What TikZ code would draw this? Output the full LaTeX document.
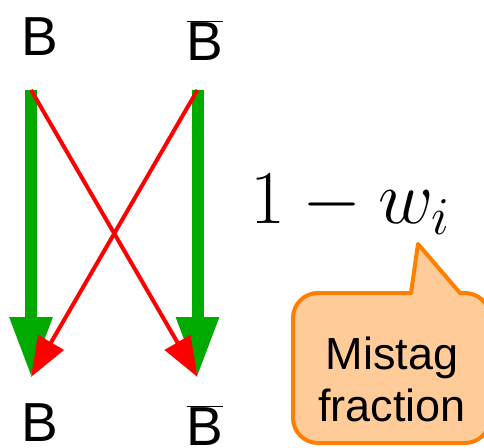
\documentclass[tikz,border=0pt]{standalone}
\usepackage{fix-cm}
\usepackage[no-math]{fontspec}
\newfontfamily\labelfont{Liberation Sans}
\definecolor{tagGreen}{RGB}{0, 170, 0}
\definecolor{tagRed}{RGB}{255, 0, 0}
\definecolor{noteLine}{RGB}{255, 128, 0}
\definecolor{noteFill}{RGB}{255, 204, 153}
\usetikzlibrary{arrows.meta, positioning}

\begin{document}
\begin{tikzpicture}[x=1pt, y=-1pt,
        flavour/.style={font=\labelfont\fontsize{55}{60}\selectfont, inner sep=0pt, anchor=base},
        keep/.style={draw=tagGreen, line width=12pt, -{Triangle[length=60pt, width=40pt]}},
        flip/.style={draw=tagRed, line width=4pt, -{Triangle[length=40pt, width=29pt]}},
        note/.style={draw=noteLine, fill=noteFill, line width=4pt, line join=round}]
    \useasboundingbox (0,0) rectangle (484,447);

    % Arrow ends
    \coordinate (srcB) at (31,90);
    \coordinate (srcBbar) at (197.5,90);
    \coordinate (dstB) at (31,377);
    \coordinate (dstBbar) at (197.5,377);

    % Flavour labels
    \node[flavour] (topB) at (39.5,55) {B};
    \node[flavour] (topBbar) at (205,60) {$\overline{\mbox{B}}$};
    \node[flavour] (botB) at (39.5,441) {B};
    \node[flavour] (botBbar) at (205,445) {$\overline{\mbox{B}}$};

    % Correct tags
    \foreach \a/\b in {srcB/dstB, srcBbar/dstBbar} {
        \draw[keep] (\a) -- (\b);
    }

    % Wrong tags
    \draw[flip] (srcB) -- (dstBbar);
    \draw[flip] (srcBbar) -- (dstB);

    \node[font=\fontsize{76}{80}\selectfont, inner sep=0pt, anchor=base] (prob) at (350,223) {$1-w_i$};

    % Speech bubble
    \draw[note] (411,293) -- (418,244) -- (460,293)
        {[rounded corners=25pt] -- (490,293) -- (490,443) -- (293,443) -- (293,293)} -- cycle;
    \node[font=\labelfont\fontsize{45}{52}\selectfont, align=center, inner sep=0pt] (mistag) at (392,379) {Mistag\\fraction};
\end{tikzpicture}
\end{document}
